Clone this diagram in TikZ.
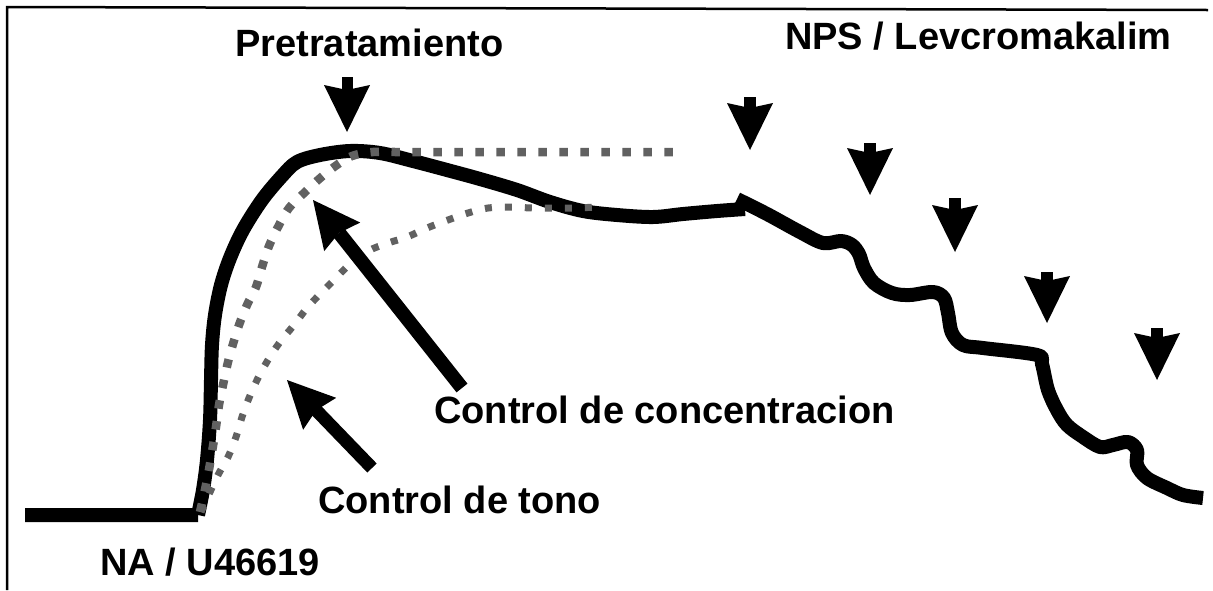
\documentclass[tikz,border=0pt]{standalone}
\usepackage{fontspec}
\setmainfont{Liberation Sans}
\usetikzlibrary{arrows.meta}
\begin{document}
\begin{tikzpicture}[x=1pt,y=-1pt,
  lbl/.style={anchor=base west, inner sep=0pt, font=\fontsize{38}{40}\selectfont\bfseries},
  trace/.style={line width=14pt, line join=round},
  bigarrow/.style={line width=12pt, -{Stealth[length=47pt,width=46pt,inset=5pt,line width=0pt]}},
  dotsA/.style={black!62, line width=8.5pt, line cap=butt, dash pattern=on 8.5pt off 12.5pt},
  dotsB/.style={black!62, line width=7pt, line cap=butt, dash pattern=on 7pt off 13pt},
  frame/.style={line width=2.5pt}]
\useasboundingbox (0,0) rectangle (1213,590);
% frame
\coordinate (fbl) at (7,590);
\coordinate (ftl) at (7,7);
\coordinate (ftr) at (1208,10);
\draw[frame] (fbl) -- (ftl) -- (ftr);
% main trace
\draw[trace] (25,515) -- (198,515) plot[smooth, tension=0.55] coordinates {
 (198,515) (203,490) (207,460) (210,420) (211,380) (212,345) (215,315) (221,285)
 (230,258) (243,230) (262,200) (282,176) (297,162) (320,155) (350,151) (380,153)
 (413,161) (447,170) (480,179) (517,190) (550,202) (583,211) (617,215) (653,217)
 (683,214) (717,211) (745,209)};
\draw[trace] plot[smooth, tension=0.55] coordinates {
 (737,199) (767,214) (800,232) (823,243) (841,241) (852,245) (859,254) (864,268)
 (874,283) (892,293) (910,295) (933,292) (944,298) (948,313) (952,333) (963,345)
 (983,348) (1037,355) (1042,364) (1048,390) (1057,410) (1067,425) (1083,437)
 (1100,447) (1113,445) (1128,442) (1137,450) (1137,465) (1147,478) (1167,488)
 (1183,495) (1203,498)};
% dotted curves
\draw[dotsA] plot[smooth, tension=0.55] coordinates {
 (200,512) (207,480) (212,452) (216,427) (219,405) (223,385) (228,362) (233,344)
 (239,325) (247,305) (256,287) (262,267) (269,246) (278,227) (289,208) (303,194)
 (318,180) (334,167) (352,156) (373,152) (395,152)} -- (682,152);
\draw[dotsB] plot[smooth, tension=0.55] coordinates {
 (201,512) (217,477) (228,457) (236,437) (242,417) (249,398) (258,378) (268,360)
 (280,342) (294,325) (307,308) (321,293) (335,279) (350,264) (368,251) (388,243)
 (407,237) (427,228) (448,220) (468,213) (488,208) (510,207) (532,208) (553,208)
 (575,208) (597,207)};
% labels
\node[lbl] (pre) at (235,56) {Pretratamiento};
\node[lbl] (nps) at (785,49) {NPS / Levcromakalim};
\node[lbl] (na) at (100,575) {NA / U46619};
\node[lbl] (tono) at (318,513) {Control de tono};
\node[lbl] (conc) at (434,423) {Control de concentracion};
% arrows
\coordinate (preS) at (347,77);   \coordinate (preT) at (347,132);
\coordinate (a1S) at (750,97);    \coordinate (a1T) at (750,150);
\coordinate (a2S) at (870,143);   \coordinate (a2T) at (870,195);
\coordinate (a3S) at (955,198);   \coordinate (a3T) at (955,252);
\coordinate (a4S) at (1047,272);  \coordinate (a4T) at (1047,323);
\coordinate (a5S) at (1157,328);  \coordinate (a5T) at (1157,380);
\coordinate (cS) at (462,388);    \coordinate (cT) at (313,200);
\coordinate (tS) at (372,468);    \coordinate (tT) at (287,380);
\draw[bigarrow, line width=11pt] (preS) -- (preT);
\draw[bigarrow] (a1S) -- (a1T);
\draw[bigarrow] (a2S) -- (a2T);
\draw[bigarrow] (a3S) -- (a3T);
\draw[bigarrow] (a4S) -- (a4T);
\draw[bigarrow] (a5S) -- (a5T);
\draw[bigarrow, line width=14pt] (cS) -- (cT);
\draw[bigarrow, line width=13pt] (tS) -- (tT);
\end{tikzpicture}
\end{document}
